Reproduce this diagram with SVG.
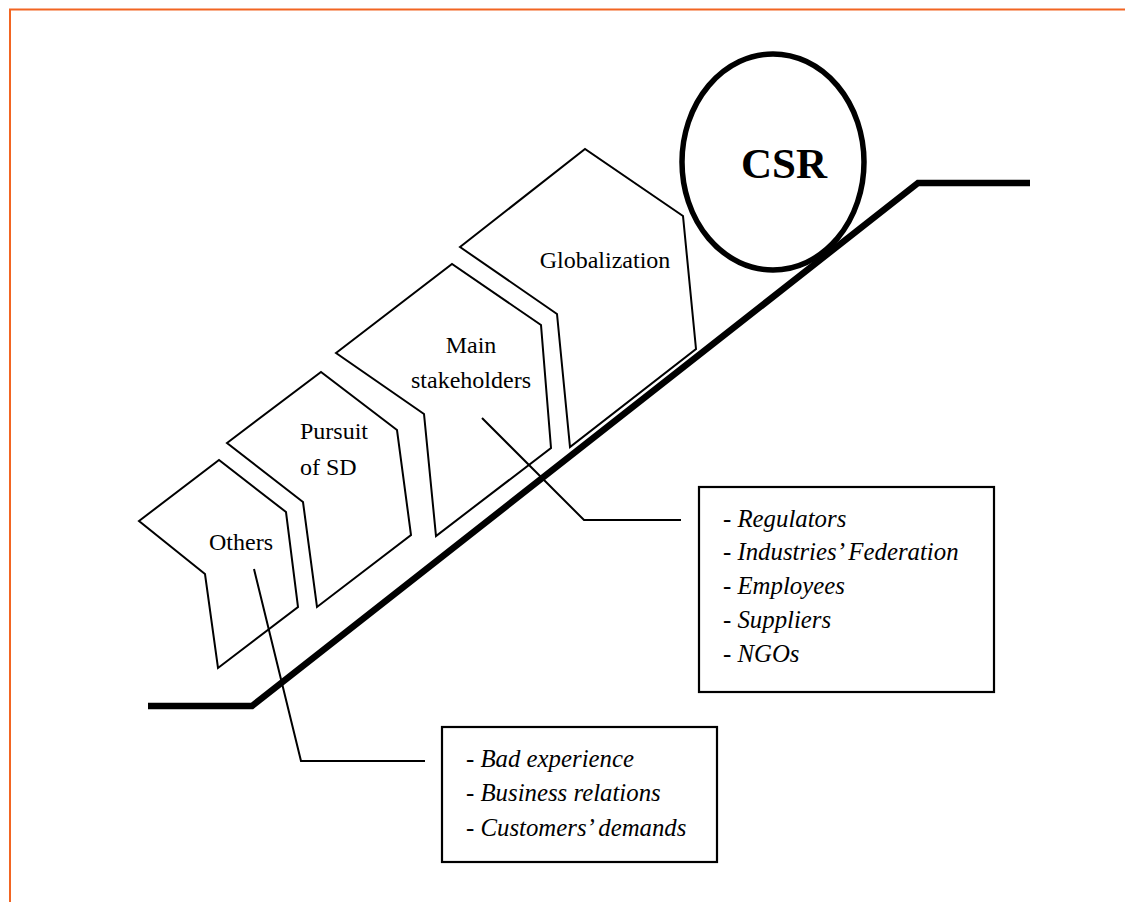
<svg xmlns="http://www.w3.org/2000/svg" width="1125" height="902" viewBox="0 0 1125 902">
<style>
.frame{fill:none;stroke:#F26522;stroke-width:2}
.shape{fill:#fff;stroke:#000;stroke-width:2;stroke-linejoin:miter}
.conn{fill:none;stroke:#000;stroke-width:2}
.base{fill:none;stroke:#000;stroke-width:6.5;stroke-linejoin:miter}
.box{fill:#fff;stroke:#000;stroke-width:2.2}
.lbl{font-family:"Liberation Serif","Times New Roman",serif;font-size:24px;fill:#000}
.it{font-family:"Liberation Serif","Times New Roman",serif;font-style:italic;font-size:24.8px;fill:#000}
.csr{font-family:"Liberation Serif","Times New Roman",serif;font-weight:bold;font-size:43px;fill:#000}
</style>
<rect width="1125" height="902" fill="#fff"/>
<path class="frame" d="M10,902 V9.5 H1125"/>
<g id="shape-others">
<polygon class="shape" points="139,521 219,460 286,512 298,607 218,668 205,574"/>
<text class="lbl" x="241" y="550" text-anchor="middle">Others</text>
</g>
<g id="shape-pursuit">
<polygon class="shape" points="227,443 321,372 397,430 411,535 317,607 303,502"/>
<text class="lbl" x="300" y="439">Pursuit</text>
<text class="lbl" x="300" y="475">of SD</text>
</g>
<g id="shape-main">
<polygon class="shape" points="336,353 452,264 541,325 551,448 436,536 424,414"/>
<text class="lbl" x="471" y="353" text-anchor="middle">Main</text>
<text class="lbl" x="471" y="388" text-anchor="middle">stakeholders</text>
</g>
<g id="shape-globalization">
<polygon class="shape" points="460,247 585,149 683,216 696,349 570,447 557,314"/>
<text class="lbl" x="605" y="268" text-anchor="middle">Globalization</text>
</g>
<g id="base-line">
<path class="base" d="M148,706 H252 L918,183 H1030"/>
</g>
<g id="csr">
<ellipse cx="773" cy="162" rx="91" ry="108" fill="none" stroke="#000" stroke-width="5.5"/>
<text class="csr" x="784" y="178" text-anchor="middle">CSR</text>
</g>
<g id="connectors">
<path class="conn" d="M254,569 L301,761 H425"/>
<path class="conn" d="M482,418 L584,520 H681"/>
</g>
<g id="box-stakeholders">
<rect class="box" x="699" y="487" width="295" height="205"/>
<text class="it" x="723" y="527">- Regulators</text>
<text class="it" x="723" y="560">- Industries’ Federation</text>
<text class="it" x="723" y="594">- Employees</text>
<text class="it" x="723" y="628">- Suppliers</text>
<text class="it" x="723" y="662">- NGOs</text>
</g>
<g id="box-others">
<rect class="box" x="442" y="727" width="275" height="135"/>
<text class="it" x="466" y="767">- Bad experience</text>
<text class="it" x="466" y="801">- Business relations</text>
<text class="it" x="466" y="836">- Customers’ demands</text>
</g>
</svg>
